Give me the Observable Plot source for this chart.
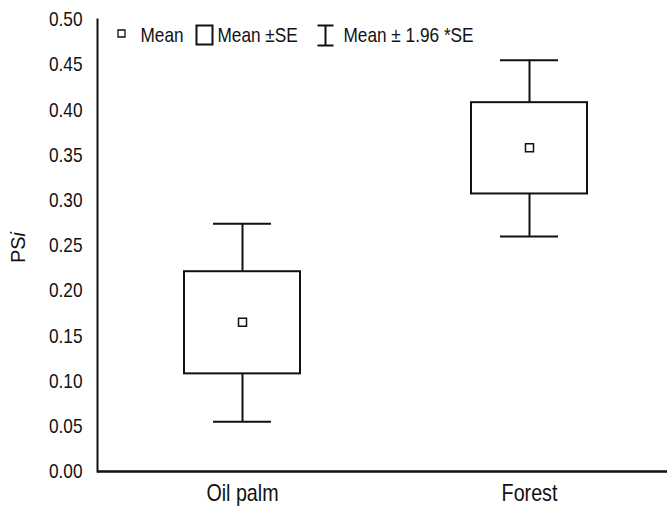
<!DOCTYPE html>
<html>
<head>
<meta charset="utf-8">
<script src="https://cdn.jsdelivr.net/npm/d3@7"></script>
<script src="https://cdn.jsdelivr.net/npm/@observablehq/plot@0.6"></script>
<style>
  html, body { margin: 0; padding: 0; background: #fff; }
</style>
</head>
<body>
<div id="chart"></div>
<script>
const categories = ["Oil palm", "Forest"];
const means  = [0.165, 0.358];
const seLow  = [0.108, 0.307];
const seHigh = [0.221, 0.408];
const ciLow  = [0.055, 0.260];
const ciHigh = [0.274, 0.455];
const yTicks = [0, 0.05, 0.10, 0.15, 0.20, 0.25, 0.30, 0.35, 0.40, 0.45, 0.50];
const legendLabels = ["Mean", "Mean \u00b1SE", "Mean \u00b1 1.96 *SE"];
const yLabel = "PS";
const yLabelItalic = "i";

const data = categories.map((c, i) => ({
  cat: c, mean: means[i], seLow: seLow[i], seHigh: seHigh[i], ciLow: ciLow[i], ciHigh: ciHigh[i]
}));

const ink = "#111";
const sans = "'Liberation Sans', Arial, sans-serif";

const smallSq = { draw(ctx) { ctx.rect(-4, -4, 8, 8); } };
const legSmallSq = { draw(ctx) { ctx.rect(-3.5, -3.5, 7, 7); } };
const legBox = { draw(ctx) { ctx.rect(-8, -9.5, 16, 19); } };
const legBeam = { draw(ctx) {
  ctx.moveTo(-8, -10); ctx.lineTo(8, -10);
  ctx.moveTo(0, -10); ctx.lineTo(0, 10);
  ctx.moveTo(-8, 10); ctx.lineTo(8, 10);
} };

const legendText = (label, dx) => Plot.text([label], {
  frameAnchor: "top-left", dx, dy: 16, text: d => d, textAnchor: "start", lineAnchor: "middle",
  fontSize: 21, fill: ink, className: "narrow"
});

const chart = Plot.plot({
  width: 667,
  height: 507,
  marginLeft: 97,
  marginRight: 0,
  marginTop: 19,
  marginBottom: 36,
  style: { background: "white", color: ink, fontFamily: sans },
  x: { domain: categories, range: [96.6, 673.4], paddingInner: 0.597, paddingOuter: 0.3, label: null },
  y: { domain: [0, 0.5], label: null },
  marks: [
    Plot.axisY({ ticks: yTicks, tickSize: 0, tickPadding: 15, tickFormat: d => d.toFixed(2), fontSize: 21, label: null, fill: ink, className: "narrow" }),
    Plot.axisX({ tickSize: 0, tickPadding: 12, fontSize: 24, label: null, fill: ink, className: "narrow" }),
    // whiskers
    Plot.ruleX(data, { x: "cat", y1: "ciLow", y2: "seLow", stroke: ink, strokeWidth: 2 }),
    Plot.ruleX(data, { x: "cat", y1: "seHigh", y2: "ciHigh", stroke: ink, strokeWidth: 2 }),
    Plot.tickY(data, { x: "cat", y: "ciLow", insetLeft: 29, insetRight: 29, stroke: ink, strokeWidth: 2 }),
    Plot.tickY(data, { x: "cat", y: "ciHigh", insetLeft: 29, insetRight: 29, stroke: ink, strokeWidth: 2 }),
    // SE boxes
    Plot.rectY(data, { x: "cat", y1: "seLow", y2: "seHigh", fill: "white", stroke: ink, strokeWidth: 2 }),
    // means
    Plot.dot(data, { x: "cat", y: "mean", symbol: smallSq, fill: "white", stroke: ink, strokeWidth: 1.5 }),
    // axis lines
    Plot.frame({ anchor: "left", stroke: ink, strokeWidth: 2 }),
    Plot.ruleY([0], { stroke: ink, strokeWidth: 2.6 }),
    // legend
    Plot.dot([0], { frameAnchor: "top-left", dx: 24, dy: 14, symbol: legSmallSq, fill: "white", stroke: ink, strokeWidth: 1.3 }),
    legendText(legendLabels[0], 43),
    Plot.dot([0], { frameAnchor: "top-left", dx: 107, dy: 15.5, symbol: legBox, fill: "white", stroke: ink, strokeWidth: 2 }),
    legendText(legendLabels[1], 120),
    Plot.dot([0], { frameAnchor: "top-left", dx: 228, dy: 16, symbol: legBeam, fill: "none", stroke: ink, strokeWidth: 2 }),
    legendText(legendLabels[2], 246),
    // y label
    Plot.text([yLabel], { frameAnchor: "left", dx: -79, dy: 2, rotate: -90, textAnchor: "middle", lineAnchor: "middle", text: d => d, fontSize: 20, fill: ink, className: "ylab" })
  ]
});

d3.select(chart).selectAll(".ylab text").append("tspan").attr("font-style", "italic").text(yLabelItalic);

document.getElementById("chart").appendChild(chart);

// condense text to match a narrow sans face (Arial Narrow ~ 82% of Arial width)
d3.select(chart).selectAll(".narrow text").each(function () {
  const w = this.getComputedTextLength();
  if (w > 0) {
    this.setAttribute("textLength", (w * 0.82).toFixed(2));
    this.setAttribute("lengthAdjust", "spacingAndGlyphs");
  }
});
</script>
</body>
</html>
